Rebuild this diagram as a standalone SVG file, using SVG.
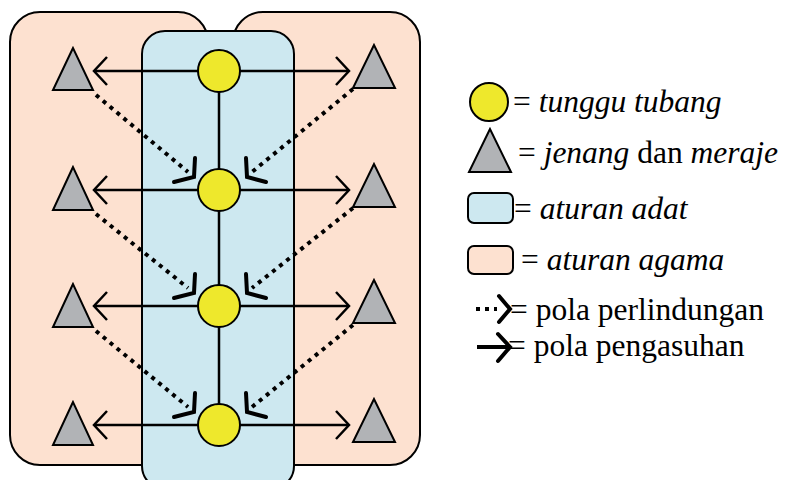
<svg xmlns="http://www.w3.org/2000/svg" width="789" height="480" viewBox="0 0 789 480">
  <style>
    .agama { fill: #FDE1D0; stroke: #000; stroke-width: 2; }
    .adat { fill: #CDE8F0; stroke: #000; stroke-width: 2; }
    .tubang { fill: #EEE82C; stroke: #000; stroke-width: 2; }
    .jenang { fill: #B1B3B6; stroke: #000; stroke-width: 2; stroke-linejoin: miter; }
    .asuh { fill: none; stroke: #000; stroke-width: 2.5; }
    .lindung { fill: none; stroke: #000; stroke-width: 4; stroke-dasharray: 4 5; }
    .head { fill: none; stroke: #000; stroke-width: 4; stroke-linecap: round; stroke-linejoin: miter; }
    .it { font-style: italic; }
  </style>

  <!-- religious-rule regions -->
  <g id="agama-kiri"><rect class="agama" x="10" y="12" width="198" height="453" rx="30"/></g>
  <g id="agama-kanan"><rect class="agama" x="233" y="12" width="187" height="453" rx="30"/></g>
  <!-- customary-rule region -->
  <g id="adat"><rect class="adat" x="142" y="31" width="152" height="458" rx="23"/></g>

  <!-- connectors -->
  <g id="connectors">
    <!-- spine linking the tunggu tubang -->
    <line class="asuh" x1="219" y1="71" x2="219" y2="425"/>
    <!-- nurturing arrows -->
    <g>
      <line class="asuh" x1="199" y1="71" x2="95" y2="71"/><polyline class="asuh" points="107,57 94,71 107,85"/>
      <line class="asuh" x1="239" y1="71" x2="348" y2="71"/><polyline class="asuh" points="336,57 349,71 336,85"/>
      <line class="asuh" x1="199" y1="190" x2="95" y2="190"/><polyline class="asuh" points="107,176 94,190 107,204"/>
      <line class="asuh" x1="239" y1="190" x2="348" y2="190"/><polyline class="asuh" points="336,176 349,190 336,204"/>
      <line class="asuh" x1="199" y1="306" x2="95" y2="306"/><polyline class="asuh" points="107,292 94,306 107,320"/>
      <line class="asuh" x1="239" y1="306" x2="348" y2="306"/><polyline class="asuh" points="336,292 349,306 336,320"/>
      <line class="asuh" x1="199" y1="425" x2="95" y2="425"/><polyline class="asuh" points="107,411 94,425 107,439"/>
      <line class="asuh" x1="239" y1="425" x2="348" y2="425"/><polyline class="asuh" points="336,411 349,425 336,439"/>
    </g>
    <!-- protection arrows -->
    <g>
      <line class="lindung" x1="96" y1="95" x2="188" y2="172"/><polyline class="head" points="195,158 194,177 174,182"/>
      <line class="lindung" x1="353" y1="89" x2="252" y2="172"/><polyline class="head" points="246,158 247,177 266,182"/>
      <line class="lindung" x1="96" y1="214" x2="188" y2="288"/><polyline class="head" points="195,274 194,293 174,298"/>
      <line class="lindung" x1="353" y1="208" x2="252" y2="288"/><polyline class="head" points="246,274 247,293 266,298"/>
      <line class="lindung" x1="96" y1="331" x2="188" y2="407"/><polyline class="head" points="195,393 194,412 174,417"/>
      <line class="lindung" x1="353" y1="325" x2="252" y2="407"/><polyline class="head" points="246,393 247,412 266,417"/>
    </g>
  </g>

  <!-- tunggu tubang nodes -->
  <g id="tubang-1"><circle class="tubang" cx="219" cy="71" r="21"/></g>
  <g id="tubang-2"><circle class="tubang" cx="219" cy="190" r="21"/></g>
  <g id="tubang-3"><circle class="tubang" cx="219" cy="306" r="21"/></g>
  <g id="tubang-4"><circle class="tubang" cx="219" cy="425" r="21"/></g>

  <!-- jenang / meraje nodes -->
  <g id="jenang-kiri-1"><polygon class="jenang" points="73,48 53,90 93,90"/></g>
  <g id="jenang-kanan-1"><polygon class="jenang" points="374,45 353,88 395,88"/></g>
  <g id="jenang-kiri-2"><polygon class="jenang" points="73,167 53,210 93,210"/></g>
  <g id="jenang-kanan-2"><polygon class="jenang" points="374,164 353,207 395,207"/></g>
  <g id="jenang-kiri-3"><polygon class="jenang" points="73,284 53,327 93,327"/></g>
  <g id="jenang-kanan-3"><polygon class="jenang" points="374,280 353,323 395,323"/></g>
  <g id="jenang-kiri-4"><polygon class="jenang" points="73,402 53,445 93,445"/></g>
  <g id="jenang-kanan-4"><polygon class="jenang" points="374,399 353,442 395,442"/></g>

  <!-- legend -->
  <g id="legend" font-family="Liberation Serif, serif" font-size="31.5" fill="#000">
    <circle class="tubang" cx="489" cy="102" r="19"/>
    <text x="513" y="112">= <tspan class="it">tunggu tubang</tspan></text>

    <polygon class="jenang" points="490,129 469,172 511,172"/>
    <text x="518" y="163">= <tspan class="it">jenang</tspan> dan <tspan class="it">meraje</tspan></text>

    <rect class="adat" x="468" y="193" width="45" height="30" rx="6"/>
    <text x="514" y="219">= <tspan class="it">aturan adat</tspan></text>

    <rect class="agama" x="468" y="246" width="45" height="28" rx="6"/>
    <text x="521" y="270">= <tspan class="it">aturan agama</tspan></text>

    <line class="lindung" x1="476" y1="309" x2="497" y2="309"/>
    <polyline class="head" points="499,296 510,309 499,322"/>
    <text x="510" y="320">= pola perlindungan</text>

    <line x1="477" y1="347" x2="508" y2="347" stroke="#000" stroke-width="4"/>
    <polyline class="head" points="498,334 510,347 498,361"/>
    <text x="508" y="356">= pola pengasuhan</text>
  </g>
</svg>
